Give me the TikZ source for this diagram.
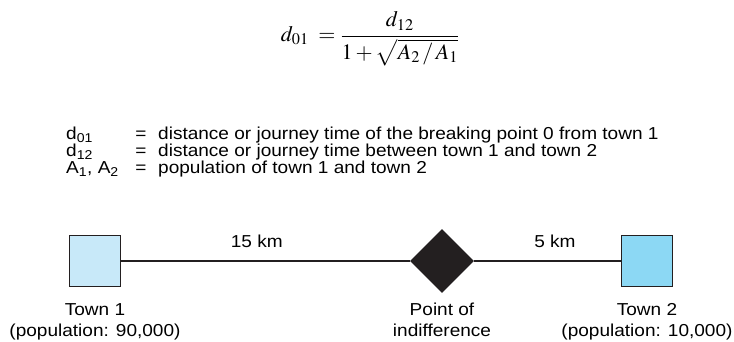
\documentclass[tikz,border=0pt]{standalone}
\usepackage{amsmath}
\usepackage{mathptmx}
\usepackage[no-math]{fontspec}
\setmainfont[FakeStretch=1.1]{Liberation Sans}
\usepackage{tikz}
\usetikzlibrary{positioning,shapes.geometric}
\definecolor{inkdark}{HTML}{231F20}
\definecolor{townpale}{HTML}{C8E9F9}
\definecolor{townsky}{HTML}{8CD8F4}

\begin{document}
\begin{tikzpicture}[x=1pt, y=-1pt,
  font=\fontsize{17.3}{21}\selectfont,
  town/.style={draw=inkdark, line width=1.1pt, minimum size=51pt, inner sep=0pt},
  crossing/.style={diamond, fill=inkdark, minimum width=64pt, minimum height=64pt,
                   inner sep=0pt},
  road/.style={draw=inkdark, line width=1.1pt},
  dist/.style={anchor=base, yshift=14pt, inner sep=0pt},
  townlab/.style={align=center, anchor=north, inner sep=0pt},
  sym/.style={anchor=base west, inner sep=0pt},
  eqs/.style={anchor=base, inner sep=0pt}]
\useasboundingbox (0,0) rectangle (734,342);
% formula
\node[inner sep=0pt, font=\fontsize{22}{26}\selectfont] (eq) at (370,39)
  {$d_{01} \;= \dfrac{d_{12}}{1+\sqrt{A_2\,/\,A_1}}$};
% legend
\node[sym] (s1) at (66,140) {d\textsubscript{01}};
\node[sym] (s2) at (66,157) {d\textsubscript{12}};
\node[sym] (s3) at (66,174) {A\textsubscript{1}, A\textsubscript{2}};
\node[eqs] (e1) at (141,140) {=};
\node[eqs] (e2) at (141,157) {=};
\node[eqs] (e3) at (141,174) {=};
\node[sym] (d1) at (158,140) {distance or journey time of the breaking point 0 from town 1};
\node[sym] (d2) at (158,157) {distance or journey time between town 1 and town 2};
\node[sym] (d3) at (158,174) {population of town 1 and town 2};
% towns and the point between them
\node[town, fill=townpale] (town1) at (95,261) {};
\node[crossing] (pt) at (442,261) {};
\node[town, fill=townsky] (town2) at (647,261) {};
\draw[road] (town1) -- node[dist, pos=.47] {15 km} (pt);
\draw[road] (pt) -- node[dist, pos=.55] {5 km} (town2);
\node[townlab, below=16pt of town1] (lab1) {Town 1\\(population: 90,000)};
\node[townlab, below=9.5pt of pt] (labpt) {Point of\\indifference};
\node[townlab, below=16pt of town2] (lab2) {Town 2\\(population: 10,000)};
\end{tikzpicture}
\end{document}
